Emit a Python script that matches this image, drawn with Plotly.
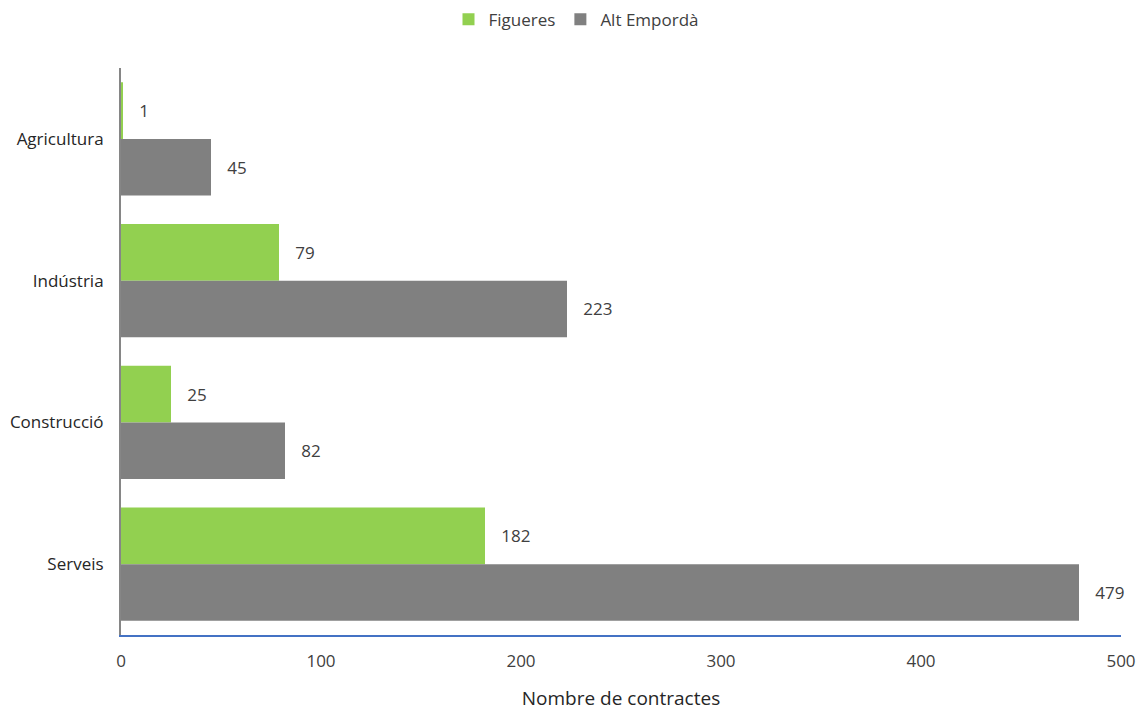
import plotly.graph_objects as go

categories = ["Agricultura", "Indústria", "Construcció", "Serveis"]
figueres = [1, 79, 25, 182]
alt_emporda = [45, 223, 82, 479]
x_ticks = [0, 100, 200, 300, 400, 500]

font_family = "Open Sans, Liberation Sans, sans-serif"

fig = go.Figure()
fig.add_trace(go.Bar(
    name="Figueres", y=categories, x=figueres, orientation="h",
    marker=dict(color="#92D050", line=dict(width=0)),
    text=[f"   {v}" for v in figueres], textposition="outside",
    textfont=dict(size=17, color="#404040", family=font_family),
    cliponaxis=False,
))
fig.add_trace(go.Bar(
    name="Alt Empordà", y=categories, x=alt_emporda, orientation="h",
    marker=dict(color="#808080", line=dict(width=0)),
    text=[f"   {v}" for v in alt_emporda], textposition="outside",
    textfont=dict(size=17, color="#404040", family=font_family),
    cliponaxis=False,
))

fig.update_layout(
    width=1137, height=703,
    margin=dict(l=113, r=24, t=60, b=76, autoexpand=False),
    paper_bgcolor="white", plot_bgcolor="white",
    barmode="group", bargap=0.2, bargroupgap=0,
    font=dict(family=font_family, size=17, color="#404040"),
    legend=dict(orientation="h", x=0.455, xanchor="center", y=1.085, yanchor="middle",
                font=dict(size=17, color="#404040"), traceorder="normal",
                itemwidth=30),
    xaxis=dict(range=[0, 500], tickvals=x_ticks, showgrid=False, zeroline=False,
               showline=True, linecolor="#4472C4", linewidth=2, automargin=False,
               ticks="", ticklabelstandoff=10, tickfont=dict(size=17, color="#404040"),
               title=dict(text="Nombre de contractes", font=dict(size=19, color="#262626"),
                          standoff=20)),
    yaxis=dict(autorange="reversed", showgrid=False, zeroline=False, automargin=False,
               showline=True, linecolor="#868686", linewidth=2,
               ticks="", ticklabelstandoff=12,
               tickfont=dict(size=17, color="#262626")),
)

fig.write_html("out.html")
